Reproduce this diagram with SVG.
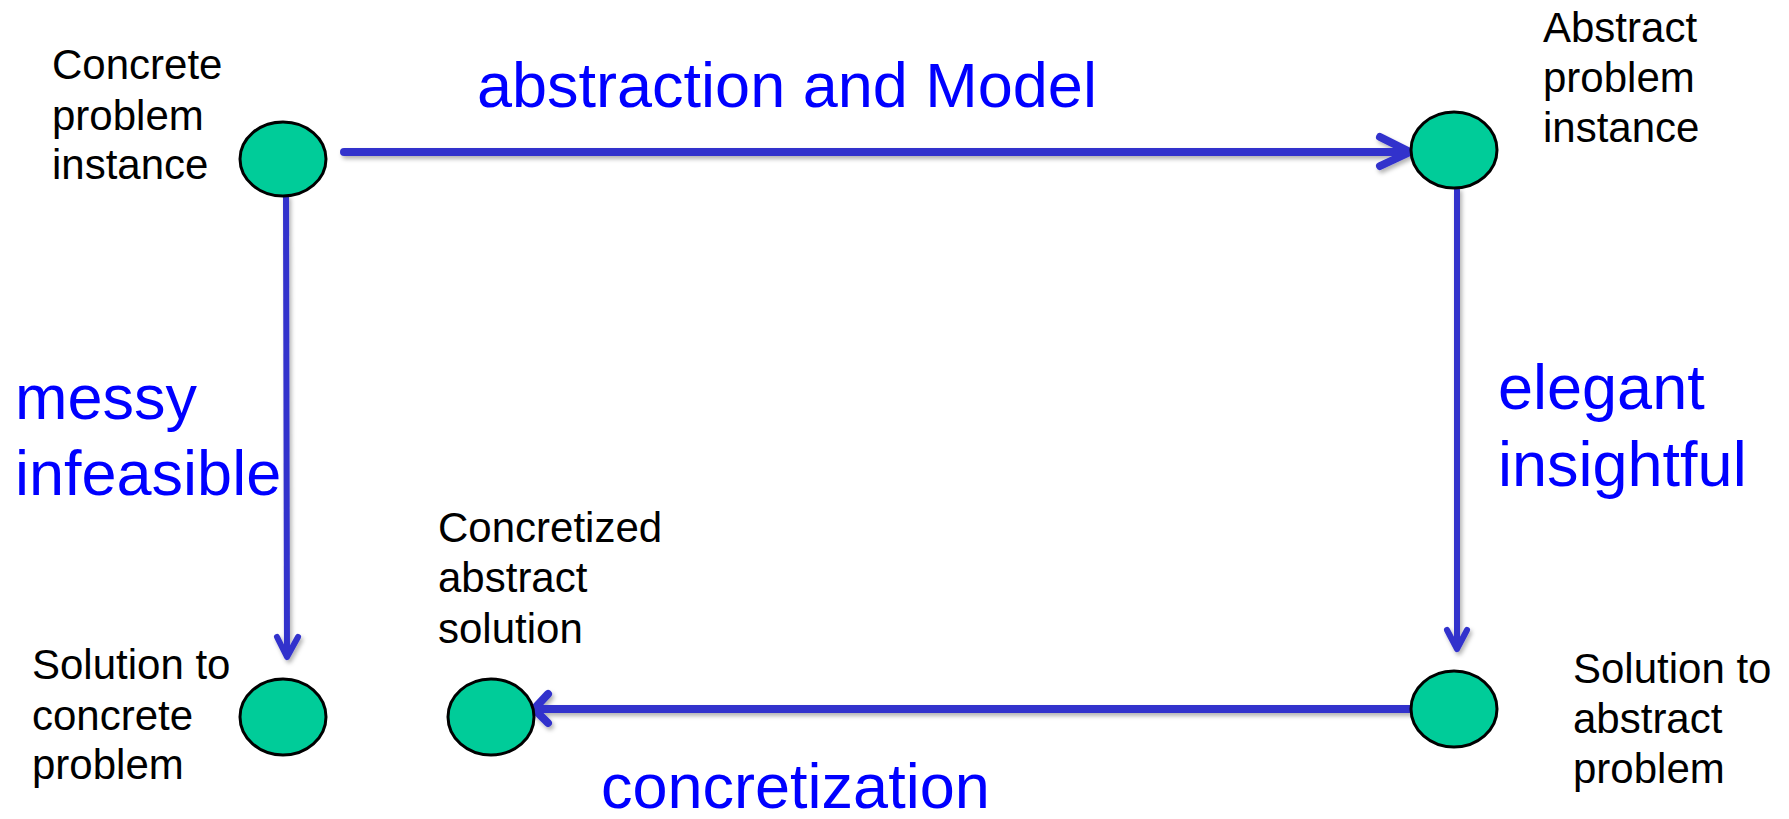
<svg xmlns="http://www.w3.org/2000/svg" width="1789" height="819" viewBox="0 0 1789 819">
<defs>
<style>
.node{fill:#00CC99;stroke:#000;stroke-width:3}
.t{font-family:"Liberation Sans",Arial,sans-serif;font-size:42px;fill:#000}
.lbl{font-family:"Liberation Sans",Arial,sans-serif;font-size:63px;fill:#0000FF}
.c{fill:none;stroke:#3333CC;stroke-linecap:round;stroke-linejoin:round}
.h{stroke-width:8}
.v{stroke-width:6}
</style>
<filter id="sh" x="-10%" y="-10%" width="120%" height="120%">
<feDropShadow dx="2" dy="3" stdDeviation="2" flood-color="#000" flood-opacity="0.3"/>
</filter>
</defs>
<rect width="1789" height="819" fill="#fff"/>
<g id="connectors" filter="url(#sh)">
<g id="c-top"><path class="c h" d="M344 152 H1409"/><path class="c h" d="M1380 137 L1410 152 L1380 166"/></g>
<g id="c-right"><path class="c v" d="M1457 190 V647"/><path class="c v" d="M1447 630 L1457 649 L1467 630"/></g>
<g id="c-left"><path class="c v" d="M286 197 L287 655"/><path class="c v" d="M277 637 L287 657 L298 637"/></g>
<g id="c-bottom"><path class="c h" d="M1411 709 H535"/><path class="c h" d="M548 694 L534 709 L548 723"/></g>
</g>
<g id="n-concrete"><ellipse class="node" cx="283" cy="159" rx="43" ry="37"/>
<text class="t"><tspan x="52" y="79">Concrete</tspan><tspan x="52" y="130">problem</tspan><tspan x="52" y="179">instance</tspan></text></g>
<g id="n-abstract"><ellipse class="node" cx="1454" cy="150" rx="43" ry="38"/>
<text class="t"><tspan x="1543" y="42">Abstract</tspan><tspan x="1543" y="92">problem</tspan><tspan x="1543" y="142">instance</tspan></text></g>
<g id="n-sol-abstract"><ellipse class="node" cx="1454" cy="709" rx="43" ry="38"/>
<text class="t"><tspan x="1573" y="683">Solution to</tspan><tspan x="1573" y="733">abstract</tspan><tspan x="1573" y="783">problem</tspan></text></g>
<g id="n-concretized"><ellipse class="node" cx="491" cy="717" rx="43" ry="38"/>
<text class="t"><tspan x="438" y="542">Concretized</tspan><tspan x="438" y="592">abstract</tspan><tspan x="438" y="643">solution</tspan></text></g>
<g id="n-sol-concrete"><ellipse class="node" cx="283" cy="717" rx="43" ry="38"/>
<text class="t"><tspan x="32" y="679">Solution to</tspan><tspan x="32" y="730">concrete</tspan><tspan x="32" y="779">problem</tspan></text></g>
<g id="labels">
<text class="lbl" x="477" y="107">abstraction and Model</text>
<text class="lbl"><tspan x="15" y="419">messy</tspan><tspan x="15" y="495">infeasible</tspan></text>
<text class="lbl"><tspan x="1498" y="409">elegant</tspan><tspan x="1498" y="486">insightful</tspan></text>
<text class="lbl" x="601" y="808">concretization</text>
</g>
</svg>
